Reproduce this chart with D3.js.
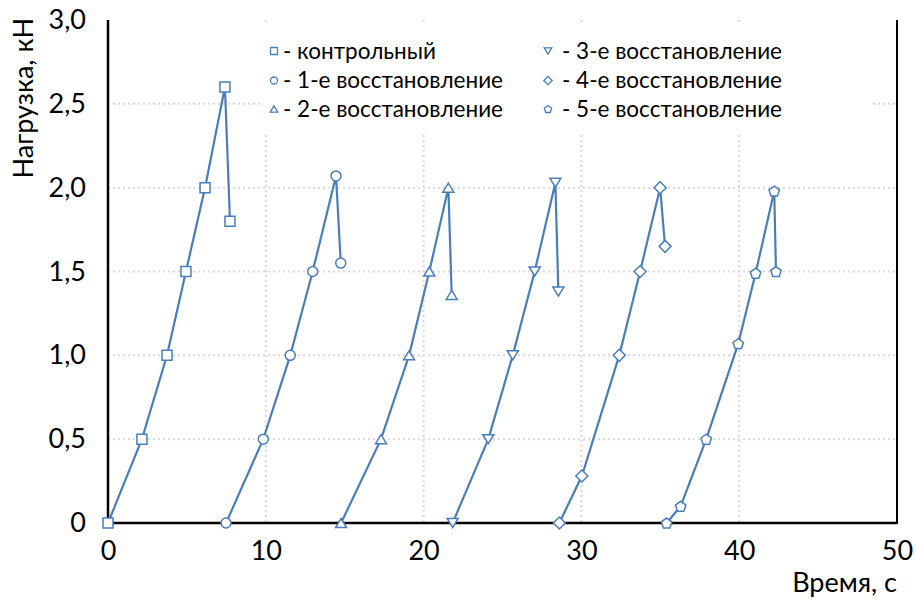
<!DOCTYPE html>
<html>
<head>
<meta charset="utf-8">
<script src="https://cdn.jsdelivr.net/npm/d3@7"></script>
<style>
  html, body { margin: 0; padding: 0; background: #fff; }
  svg text { font-family: Lato, "Noto Sans", "DejaVu Sans", sans-serif; fill: #000; }
</style>
</head>
<body>
<svg id="chart" width="916" height="600"></svg>
<script>
// Load vs. time for the control specimen and five repeated recoveries
const seriesNames = ["- контрольный", "- 1-е восстановление", "- 2-е восстановление",
                     "- 3-е восстановление", "- 4-е восстановление", "- 5-е восстановление"];
const markerKinds = ["square", "circle", "triangleUp", "triangleDown", "diamond", "pentagon"];

const timeControl = [0, 2.15, 3.74, 4.94, 6.15, 7.41, 7.73];
const loadControl = [0, 0.5, 1.0, 1.5, 2.0, 2.6, 1.8];

const timeRec1 = [7.48, 9.84, 11.55, 12.97, 14.45, 14.75];
const loadRec1 = [0, 0.5, 1.0, 1.5, 2.07, 1.55];

const timeRec2 = [14.77, 17.3, 19.08, 20.36, 21.57, 21.78];
const loadRec2 = [0, 0.5, 1.0, 1.5, 2.0, 1.36];

const timeRec3 = [21.84, 24.1, 25.65, 27.04, 28.35, 28.54];
const loadRec3 = [0, 0.5, 1.0, 1.5, 2.03, 1.38];

const timeRec4 = [28.6, 30.03, 32.4, 33.72, 34.99, 35.3];
const loadRec4 = [0, 0.28, 1.0, 1.5, 2.0, 1.65];

const timeRec5 = [35.4, 36.29, 37.91, 39.94, 41.04, 42.22, 42.33];
const loadRec5 = [0, 0.1, 0.5, 1.07, 1.49, 1.98, 1.5];

const xTicks = [0, 10, 20, 30, 40, 50];
const yTicks = [0, 0.5, 1.0, 1.5, 2.0, 2.5, 3.0];
const xTitle = "Время, с";
const yTitle = "Нагрузка, кН";

const seriesTimes = [timeControl, timeRec1, timeRec2, timeRec3, timeRec4, timeRec5];
const seriesLoads = [loadControl, loadRec1, loadRec2, loadRec3, loadRec4, loadRec5];
const series = seriesNames.map((name, i) => ({
  name, kind: markerKinds[i],
  points: seriesTimes[i].map((t, j) => ({ t, v: seriesLoads[i][j] }))
}));

const color = "#4a7ebb";
const axisFont = 27;
const svg = d3.select("#chart");
const plot = { left: 108, right: 897, top: 20, bottom: 523 };

const x = d3.scaleLinear().domain([0, 50]).range([plot.left, plot.right]);
const y = d3.scaleLinear().domain([0, 3]).range([plot.bottom, plot.top]);

// Dotted gridlines
const grid = svg.append("g");
grid.selectAll("line.hg").data(yTicks.filter(d => d > 0 && d < 3)).join("line")
  .attr("x1", plot.left).attr("x2", plot.right)
  .attr("y1", d => y(d)).attr("y2", d => y(d))
  .attr("stroke", "#d9d9d9").attr("stroke-width", 2).attr("stroke-dasharray", "2,3");
grid.selectAll("line.vg").data(xTicks.filter(d => d > 0 && d < 50)).join("line")
  .attr("x1", d => x(d)).attr("x2", d => x(d))
  .attr("y1", plot.top).attr("y2", plot.bottom)
  .attr("stroke", "#d9d9d9").attr("stroke-width", 2).attr("stroke-dasharray", "2,3");

// Axes (labels only, no tick marks)
const fmt = d => d === 0 ? "0" : d3.format(".1f")(d).replace(".", ",");
const yAxis = svg.append("g").attr("transform", `translate(${plot.left},0)`)
  .call(d3.axisLeft(y).tickValues(yTicks).tickFormat(fmt).tickSize(0).tickPadding(22));
const xAxis = svg.append("g").attr("transform", `translate(0,${plot.bottom})`)
  .call(d3.axisBottom(x).tickValues(xTicks).tickFormat(d => d).tickSize(0).tickPadding(18));
[yAxis, xAxis].forEach(a => {
  a.select(".domain").remove();
  a.selectAll("text").attr("font-size", axisFont).attr("font-family", "Lato, 'Noto Sans', sans-serif");
});

// Frame: left, bottom and right edges
svg.append("line").attr("x1", plot.left).attr("x2", plot.left)
  .attr("y1", plot.top).attr("y2", plot.bottom + 1).attr("stroke", "#000").attr("stroke-width", 2.5);
svg.append("line").attr("x1", plot.left).attr("x2", plot.right)
  .attr("y1", plot.bottom).attr("y2", plot.bottom).attr("stroke", "#000").attr("stroke-width", 2.5);
svg.append("line").attr("x1", plot.right).attr("x2", plot.right)
  .attr("y1", plot.top).attr("y2", plot.bottom + 1).attr("stroke", "#000").attr("stroke-width", 2);

// Axis titles
svg.append("text").attr("x", plot.right).attr("y", 592)
  .attr("text-anchor", "end").attr("font-size", axisFont).text(xTitle);
svg.append("text").attr("transform", `translate(33,${plot.top - 2}) rotate(-90)`)
  .attr("text-anchor", "end").attr("font-size", axisFont).text(yTitle);

// Marker shapes
function pentagonPath(r) {
  const pts = d3.range(5).map(k => {
    const a = -Math.PI / 2 + k * 2 * Math.PI / 5;
    return [r * Math.cos(a), r * Math.sin(a) + r * 0.1];
  });
  return "M" + pts.map(p => p.join(",")).join("L") + "Z";
}
function markerPath(kind, s) {
  switch (kind) {
    case "square": return d3.symbol(d3.symbolSquare, s * s)();
    case "circle": return d3.symbol(d3.symbolCircle, Math.PI * (s / 2) * (s / 2))();
    case "triangleUp": return `M0,${-s * 0.45}L${s * 0.55},${s * 0.45}L${-s * 0.55},${s * 0.45}Z`;
    case "triangleDown": return `M0,${s * 0.45}L${s * 0.55},${-s * 0.45}L${-s * 0.55},${-s * 0.45}Z`;
    case "diamond": return `M0,${-s * 0.6}L${s * 0.6},0L0,${s * 0.6}L${-s * 0.6},0Z`;
    case "pentagon": return pentagonPath(s * 0.55);
  }
}

// Legend panel on a white background
const legendBox = { x0: 262, x1: 871, y0: 24, y1: 132 };
svg.append("rect").attr("x", legendBox.x0).attr("y", legendBox.y0)
  .attr("width", legendBox.x1 - legendBox.x0).attr("height", legendBox.y1 - legendBox.y0)
  .attr("fill", "#fff");
const legendCols = [{ mx: 274, tx: 283 }, { mx: 548, tx: 562 }];
const legendRows = [51, 80.5, 109];
const legend = svg.append("g").selectAll("g").data(series).join("g")
  .attr("transform", (d, i) => `translate(${legendCols[Math.floor(i / 3)].mx},${legendRows[i % 3]})`);
legend.append("path").attr("d", d => markerPath(d.kind, 7))
  .attr("fill", "#fff").attr("stroke", color).attr("stroke-width", 1.3);
legend.append("text")
  .attr("x", (d, i) => legendCols[Math.floor(i / 3)].tx - legendCols[Math.floor(i / 3)].mx)
  .attr("dy", "0.35em").attr("font-size", 22.5).text(d => d.name);

// Series lines and markers
const line = d3.line().x(d => x(d.t)).y(d => y(d.v));
const g = svg.append("g");
series.forEach(s => {
  g.append("path").datum(s.points).attr("d", line)
    .attr("fill", "none").attr("stroke", color).attr("stroke-width", 2.2);
  g.selectAll(null).data(s.points).join("path")
    .attr("transform", d => `translate(${x(d.t)},${y(d.v)})`)
    .attr("d", markerPath(s.kind, 10))
    .attr("fill", "#fff").attr("stroke", color).attr("stroke-width", 1.5);
});
</script>
</body>
</html>
